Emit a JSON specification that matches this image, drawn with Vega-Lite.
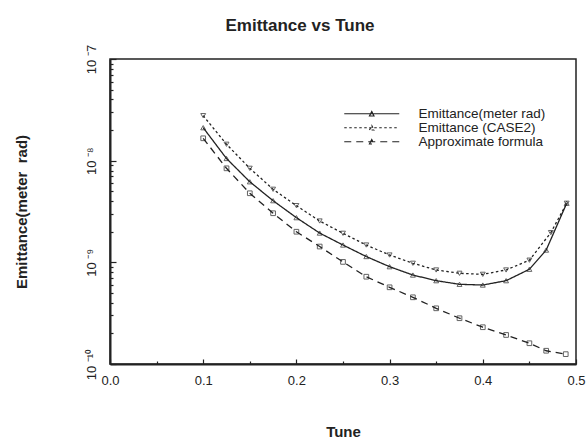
{
  "$schema": "https://vega.github.io/schema/vega-lite/v6.json",
  "width": 466,
  "height": 305,
  "autosize": {"type": "none"},
  "padding": {"left": 110, "top": 59, "right": 10, "bottom": 75},
  "background": "white",
  "title": {"text": "Emittance vs Tune", "font": "Liberation Sans", "fontSize": 17, "fontWeight": "bold", "color": "#222", "dx": -43, "offset": 9},
  "config": {
    "view": {"stroke": "#222", "strokeWidth": 1.5},
    "font": "Liberation Sans"
  },
  "data": {
    "values": [
      {"series": "Emittance(meter rad)", "tune": 0.1, "emit": 2.11e-8},
      {"series": "Emittance(meter rad)", "tune": 0.125, "emit": 1.05e-8},
      {"series": "Emittance(meter rad)", "tune": 0.15, "emit": 6.2e-9},
      {"series": "Emittance(meter rad)", "tune": 0.175, "emit": 4.04e-9},
      {"series": "Emittance(meter rad)", "tune": 0.2, "emit": 2.75e-9},
      {"series": "Emittance(meter rad)", "tune": 0.225, "emit": 1.94e-9},
      {"series": "Emittance(meter rad)", "tune": 0.25, "emit": 1.48e-9},
      {"series": "Emittance(meter rad)", "tune": 0.275, "emit": 1.14e-9},
      {"series": "Emittance(meter rad)", "tune": 0.3, "emit": 9.06e-10},
      {"series": "Emittance(meter rad)", "tune": 0.325, "emit": 7.5e-10},
      {"series": "Emittance(meter rad)", "tune": 0.35, "emit": 6.6e-10},
      {"series": "Emittance(meter rad)", "tune": 0.375, "emit": 6.08e-10},
      {"series": "Emittance(meter rad)", "tune": 0.4, "emit": 5.98e-10},
      {"series": "Emittance(meter rad)", "tune": 0.425, "emit": 6.6e-10},
      {"series": "Emittance(meter rad)", "tune": 0.45, "emit": 8.55e-10},
      {"series": "Emittance(meter rad)", "tune": 0.468, "emit": 1.32e-9},
      {"series": "Emittance(meter rad)", "tune": 0.49, "emit": 3.81e-9},
      {"series": "Emittance (CASE2)", "tune": 0.1, "emit": 2.77e-8},
      {"series": "Emittance (CASE2)", "tune": 0.125, "emit": 1.45e-8},
      {"series": "Emittance (CASE2)", "tune": 0.15, "emit": 8.41e-9},
      {"series": "Emittance (CASE2)", "tune": 0.175, "emit": 5.23e-9},
      {"series": "Emittance (CASE2)", "tune": 0.2, "emit": 3.61e-9},
      {"series": "Emittance (CASE2)", "tune": 0.225, "emit": 2.55e-9},
      {"series": "Emittance (CASE2)", "tune": 0.25, "emit": 1.93e-9},
      {"series": "Emittance (CASE2)", "tune": 0.275, "emit": 1.48e-9},
      {"series": "Emittance (CASE2)", "tune": 0.3, "emit": 1.18e-9},
      {"series": "Emittance (CASE2)", "tune": 0.325, "emit": 9.79e-10},
      {"series": "Emittance (CASE2)", "tune": 0.35, "emit": 8.41e-10},
      {"series": "Emittance (CASE2)", "tune": 0.375, "emit": 7.8e-10},
      {"series": "Emittance (CASE2)", "tune": 0.4, "emit": 7.62e-10},
      {"series": "Emittance (CASE2)", "tune": 0.425, "emit": 8.41e-10},
      {"series": "Emittance (CASE2)", "tune": 0.45, "emit": 1.05e-9},
      {"series": "Emittance (CASE2)", "tune": 0.473, "emit": 1.96e-9},
      {"series": "Emittance (CASE2)", "tune": 0.49, "emit": 3.81e-9},
      {"series": "Approximate formula", "tune": 0.1, "emit": 1.66e-8},
      {"series": "Approximate formula", "tune": 0.125, "emit": 8.41e-9},
      {"series": "Approximate formula", "tune": 0.15, "emit": 4.78e-9},
      {"series": "Approximate formula", "tune": 0.175, "emit": 3.04e-9},
      {"series": "Approximate formula", "tune": 0.2, "emit": 2.0e-9},
      {"series": "Approximate formula", "tune": 0.225, "emit": 1.43e-9},
      {"series": "Approximate formula", "tune": 0.25, "emit": 1.01e-9},
      {"series": "Approximate formula", "tune": 0.275, "emit": 7.22e-10},
      {"series": "Approximate formula", "tune": 0.3, "emit": 5.68e-10},
      {"series": "Approximate formula", "tune": 0.325, "emit": 4.53e-10},
      {"series": "Approximate formula", "tune": 0.35, "emit": 3.53e-10},
      {"series": "Approximate formula", "tune": 0.375, "emit": 2.82e-10},
      {"series": "Approximate formula", "tune": 0.4, "emit": 2.3e-10},
      {"series": "Approximate formula", "tune": 0.425, "emit": 1.93e-10},
      {"series": "Approximate formula", "tune": 0.45, "emit": 1.6e-10},
      {"series": "Approximate formula", "tune": 0.468, "emit": 1.35e-10},
      {"series": "Approximate formula", "tune": 0.489, "emit": 1.25e-10}
    ]
  },
  "encoding": {
    "x": {
      "field": "tune", "type": "quantitative",
      "scale": {"domain": [0, 0.5], "nice": false, "zero": false},
      "axis": {
        "title": "Tune",
        "titleFont": "Liberation Sans", "titleFontSize": 15, "titleFontWeight": "bold", "titleColor": "#222", "titlePadding": 35,
        "values": [0, 0.05, 0.1, 0.15, 0.2, 0.25, 0.3, 0.35, 0.4, 0.45, 0.5],
        "labelExpr": "abs(datum.value*10 - round(datum.value*10)) < 0.001 ? format(datum.value, '.1f') : ''",
        "labelFont": "Liberation Sans", "labelFontSize": 13, "labelColor": "#222", "labelPadding": 15,
        "labelFlush": false, "labelOverlap": false,
        "grid": false,
        "domainColor": "#222", "domainWidth": 2,
        "tickColor": "#222", "tickWidth": 1.2,
        "tickSize": {"condition": {"test": "abs(datum.value*10 - round(datum.value*10)) < 0.001", "value": -5}, "value": -3}
      }
    },
    "y": {
      "field": "emit", "type": "quantitative",
      "scale": {"type": "log", "domain": [1e-10, 1e-7], "nice": false},
      "axis": {
        "title": "Emittance(meter\u00a0 rad)",
        "titleFont": "Liberation Sans", "titleFontSize": 15, "titleFontWeight": "bold", "titleColor": "#222", "titlePadding": 53,
        "values": [1e-10, 2e-10, 3e-10, 4e-10, 5e-10, 6e-10, 7e-10, 8e-10, 9e-10, 1e-9, 2e-9, 3e-9, 4e-9, 5e-9, 6e-9, 7e-9, 8e-9, 9e-9, 1e-8, 2e-8, 3e-8, 4e-8, 5e-8, 6e-8, 7e-8, 8e-8, 9e-8, 1e-7],
        "labelExpr": "abs(log(datum.value)/LN10 - round(log(datum.value)/LN10)) < 0.001 ? '10 ⁻' + replace(replace(replace(replace(format(-round(log(datum.value)/LN10), 'd'), '1', '¹'), '0', '⁰'), '9', '⁹'), '8', '⁸') : ''",
        "labelAngle": 270, "labelAlign": "center", "labelBaseline": "bottom",
        "labelFont": "Liberation Sans", "labelFontSize": 13, "labelColor": "#222", "labelPadding": 18,
        "labelFlush": false, "labelOverlap": false,
        "grid": false,
        "domainColor": "#222", "domainWidth": 2,
        "tickColor": "#222", "tickWidth": 1.2,
        "tickSize": {"condition": {"test": "abs(log(datum.value)/LN10 - round(log(datum.value)/LN10)) < 0.001", "value": -6}, "value": -3}
      }
    }
  },
  "layer": [
    {
      "mark": {"type": "line", "color": "#222", "strokeWidth": 1.3},
      "encoding": {
        "strokeDash": {
          "field": "series", "type": "nominal",
          "scale": {"domain": ["Emittance(meter rad)", "Emittance (CASE2)", "Approximate formula"], "range": [[1, 0], [2.5, 2.5], [7, 5]]},
          "legend": {
            "orient": "none", "legendX": 255, "legendY": 48, "title": null,
            "symbolType": "M-5.5,0L5.5,0M-0.45,0.45L0,-0.45L0.45,0.45Z",
            "symbolSize": 100, "symbolStrokeColor": "#222", "symbolFillColor": "transparent", "symbolStrokeWidth": 1.2,
            "labelFont": "Liberation Sans", "labelFontSize": 13.5, "labelColor": "#222", "labelOffset": 40,
            "rowPadding": -2, "padding": 0
          }
        }
      }
    },
    {
      "transform": [{"filter": "datum.series === 'Emittance(meter rad)'"}],
      "mark": {"type": "point", "shape": "triangle-up", "filled": false, "color": "#222", "size": 24, "strokeWidth": 1}
    },
    {
      "transform": [{"filter": "datum.series === 'Emittance (CASE2)'"}],
      "mark": {"type": "point", "shape": "triangle-down", "filled": false, "color": "#222", "size": 24, "strokeWidth": 1}
    },
    {
      "transform": [{"filter": "datum.series === 'Approximate formula'"}],
      "mark": {"type": "point", "shape": "square", "filled": false, "color": "#222", "size": 22, "strokeWidth": 1}
    }
  ]
}
